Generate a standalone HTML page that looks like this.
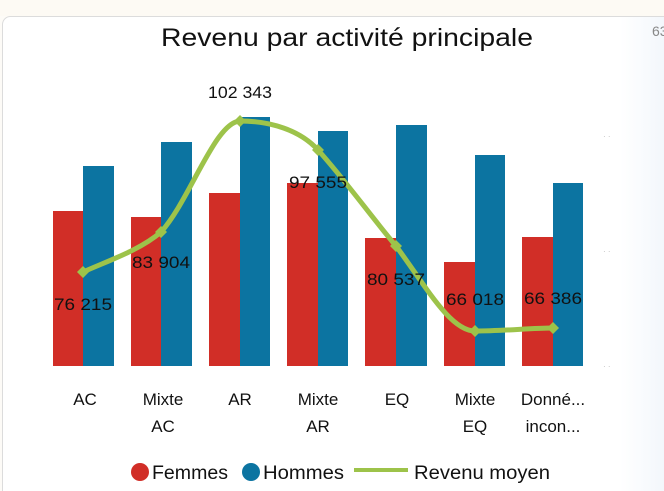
<!DOCTYPE html>
<html><head><meta charset="utf-8"><style>
html,body{margin:0;padding:0;width:664px;height:491px;overflow:hidden;background:#fdfbf7;}
svg{display:block;font-family:"Liberation Sans",sans-serif;}
</style></head><body>
<svg width="664" height="491" viewBox="0 0 664 491">
<defs><linearGradient id="g" x1="0" x2="1"><stop offset="0" stop-color="#ffffff"/><stop offset="1" stop-color="#f3f7fc"/></linearGradient></defs>
<rect x="0" y="0" width="664" height="16" fill="#fdfaf4"/>
<rect x="2.5" y="16.5" width="680" height="490" rx="8" fill="#fff" stroke="#dcdcdc"/>
<rect x="620" y="17" width="44" height="474" fill="url(#g)"/>
<text x="652" y="36" font-size="14" fill="#888">63</text>
<text x="347" y="46" font-size="25" text-anchor="middle" fill="#111" textLength="372" lengthAdjust="spacingAndGlyphs">Revenu par activité principale</text>
<g fill="#bbb" font-size="8"><text x="603" y="139">· ·</text><text x="603" y="254">· ·</text><text x="603" y="369">· ·</text></g>
<g fill="#d12e27">
<rect x="53" y="211" width="30" height="155"/><rect x="131" y="217" width="30" height="149"/>
<rect x="209" y="193" width="31" height="173"/><rect x="287" y="183" width="31" height="183"/>
<rect x="365" y="238" width="31" height="128"/><rect x="444" y="262" width="31" height="104"/>
<rect x="522" y="237" width="31" height="129"/></g>
<g fill="#0c74a1">
<rect x="83" y="166" width="31" height="200"/><rect x="161" y="142" width="31" height="224"/>
<rect x="240" y="117" width="30" height="249"/><rect x="318" y="131" width="30" height="235"/>
<rect x="396" y="125" width="31" height="241"/><rect x="475" y="155" width="30" height="211"/>
<rect x="553" y="183" width="30" height="183"/></g>
<path d="M83,272 C110,260 140,250 161,232 C190,200 215,122 240,121 C270,121 300,130 318,150 C345,180 370,215 396,246 C425,285 450,331 475,331 C505,331 530,328 553,328" fill="none" stroke="#9dc34a" stroke-width="5"/>
<g fill="#9dc34a"><path d="M83,266 l6,6 -6,6 -6,-6z"/><path d="M161,226 l6,6 -6,6 -6,-6z"/><path d="M240,115 l6,6 -6,6 -6,-6z"/><path d="M318,144 l6,6 -6,6 -6,-6z"/><path d="M396,240 l6,6 -6,6 -6,-6z"/><path d="M475,325 l6,6 -6,6 -6,-6z"/><path d="M553,322 l6,6 -6,6 -6,-6z"/></g>
<g font-size="17" fill="#111" text-anchor="middle">
<text x="83" y="310" textLength="58" lengthAdjust="spacingAndGlyphs">76 215</text>
<text x="161" y="268" textLength="58" lengthAdjust="spacingAndGlyphs">83 904</text>
<text x="240" y="98" textLength="64" lengthAdjust="spacingAndGlyphs">102 343</text>
<text x="318" y="188" textLength="58" lengthAdjust="spacingAndGlyphs">97 555</text>
<text x="396" y="285" textLength="58" lengthAdjust="spacingAndGlyphs">80 537</text>
<text x="475" y="305" textLength="58" lengthAdjust="spacingAndGlyphs">66 018</text>
<text x="553" y="304" textLength="58" lengthAdjust="spacingAndGlyphs">66 386</text>
</g>
<g font-size="17" fill="#111" text-anchor="middle">
<text x="85" y="405">AC</text>
<text x="163" y="405">Mixte</text><text x="163" y="432">AC</text>
<text x="240" y="405">AR</text>
<text x="318" y="405">Mixte</text><text x="318" y="432">AR</text>
<text x="397" y="405">EQ</text>
<text x="475" y="405">Mixte</text><text x="475" y="432">EQ</text>
<text x="553" y="405">Donné...</text><text x="553" y="432">incon...</text>
</g>
<circle cx="140" cy="472" r="9" fill="#d12e27"/>
<text x="152" y="479" font-size="19" fill="#111" textLength="76" lengthAdjust="spacingAndGlyphs">Femmes</text>
<circle cx="251" cy="472" r="9" fill="#0c74a1"/>
<text x="263" y="479" font-size="19" fill="#111" textLength="81" lengthAdjust="spacingAndGlyphs">Hommes</text>
<line x1="354" y1="470" x2="408" y2="470" stroke="#9dc34a" stroke-width="4"/>
<text x="414" y="479" font-size="19" fill="#111" textLength="136" lengthAdjust="spacingAndGlyphs">Revenu moyen</text>
</svg>
</body></html>
